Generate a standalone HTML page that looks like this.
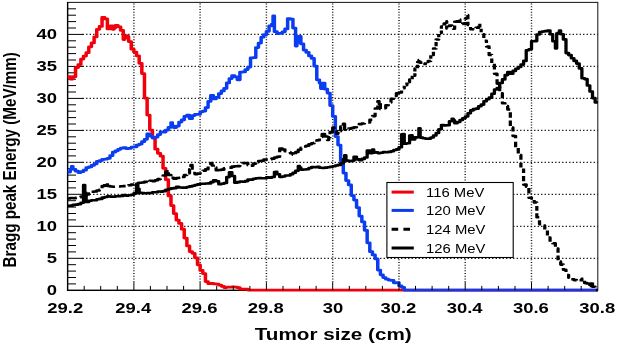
<!DOCTYPE html>
<html><head><meta charset="utf-8"><title>Bragg peak</title>
<style>
html,body{margin:0;padding:0;background:#fff;}
body{width:617px;height:346px;overflow:hidden;}
svg{display:block}
text{font-family:"Liberation Sans",Arial,Helvetica,sans-serif;fill:#000}
.tl{font-size:14.2px;font-weight:bold}
.lg{font-size:12.7px}
.gh{stroke:#181818;stroke-width:1.3;stroke-dasharray:1.35 2.15}
.gv{stroke:#181818;stroke-width:1.45;stroke-dasharray:1.15 1.6}
.tk{stroke:#000;stroke-width:1}
.cv{fill:none;stroke-linejoin:round;stroke-linecap:butt}
</style></head><body>
<svg width="617" height="346" viewBox="0 0 617 346">
<rect width="617" height="346" fill="#fff"/>
<g><line x1="82.6" y1="258.3" x2="597.8" y2="258.3" class="gh"/><line x1="82.6" y1="226.3" x2="597.8" y2="226.3" class="gh"/><line x1="82.6" y1="194.3" x2="597.8" y2="194.3" class="gh"/><line x1="82.6" y1="162.3" x2="597.8" y2="162.3" class="gh"/><line x1="82.6" y1="130.4" x2="597.8" y2="130.4" class="gh"/><line x1="82.6" y1="98.4" x2="597.8" y2="98.4" class="gh"/><line x1="82.6" y1="66.4" x2="597.8" y2="66.4" class="gh"/><line x1="82.6" y1="34.4" x2="597.8" y2="34.4" class="gh"/><line x1="133.9" y1="282.3" x2="133.9" y2="2.4" class="gv"/><line x1="200.1" y1="282.3" x2="200.1" y2="2.4" class="gv"/><line x1="266.4" y1="282.3" x2="266.4" y2="2.4" class="gv"/><line x1="332.7" y1="282.3" x2="332.7" y2="2.4" class="gv"/><line x1="399.0" y1="282.3" x2="399.0" y2="2.4" class="gv"/><line x1="465.2" y1="282.3" x2="465.2" y2="2.4" class="gv"/><line x1="531.5" y1="282.3" x2="531.5" y2="2.4" class="gv"/></g>
<rect x="67.6" y="2.4" width="530.2" height="287.9" fill="none" stroke="#1a1a1a" stroke-width="1.05"/><path d="M67.6,1.9V290.3H597.8" fill="none" stroke="#000" stroke-width="1.35"/>
<g><line x1="67.6" y1="283.9" x2="76.0" y2="283.9" class="tk"/><line x1="67.6" y1="277.5" x2="76.0" y2="277.5" class="tk"/><line x1="67.6" y1="271.1" x2="76.0" y2="271.1" class="tk"/><line x1="67.6" y1="264.7" x2="76.0" y2="264.7" class="tk"/><line x1="67.6" y1="258.3" x2="83.1" y2="258.3" class="tk"/><line x1="67.6" y1="251.9" x2="76.0" y2="251.9" class="tk"/><line x1="67.6" y1="245.5" x2="76.0" y2="245.5" class="tk"/><line x1="67.6" y1="239.1" x2="76.0" y2="239.1" class="tk"/><line x1="67.6" y1="232.7" x2="76.0" y2="232.7" class="tk"/><line x1="67.6" y1="226.3" x2="83.1" y2="226.3" class="tk"/><line x1="67.6" y1="219.9" x2="76.0" y2="219.9" class="tk"/><line x1="67.6" y1="213.5" x2="76.0" y2="213.5" class="tk"/><line x1="67.6" y1="207.1" x2="76.0" y2="207.1" class="tk"/><line x1="67.6" y1="200.7" x2="76.0" y2="200.7" class="tk"/><line x1="67.6" y1="194.3" x2="83.1" y2="194.3" class="tk"/><line x1="67.6" y1="187.9" x2="76.0" y2="187.9" class="tk"/><line x1="67.6" y1="181.5" x2="76.0" y2="181.5" class="tk"/><line x1="67.6" y1="175.1" x2="76.0" y2="175.1" class="tk"/><line x1="67.6" y1="168.7" x2="76.0" y2="168.7" class="tk"/><line x1="67.6" y1="162.3" x2="83.1" y2="162.3" class="tk"/><line x1="67.6" y1="155.9" x2="76.0" y2="155.9" class="tk"/><line x1="67.6" y1="149.5" x2="76.0" y2="149.5" class="tk"/><line x1="67.6" y1="143.2" x2="76.0" y2="143.2" class="tk"/><line x1="67.6" y1="136.8" x2="76.0" y2="136.8" class="tk"/><line x1="67.6" y1="130.4" x2="83.1" y2="130.4" class="tk"/><line x1="67.6" y1="124.0" x2="76.0" y2="124.0" class="tk"/><line x1="67.6" y1="117.6" x2="76.0" y2="117.6" class="tk"/><line x1="67.6" y1="111.2" x2="76.0" y2="111.2" class="tk"/><line x1="67.6" y1="104.8" x2="76.0" y2="104.8" class="tk"/><line x1="67.6" y1="98.4" x2="83.1" y2="98.4" class="tk"/><line x1="67.6" y1="92.0" x2="76.0" y2="92.0" class="tk"/><line x1="67.6" y1="85.6" x2="76.0" y2="85.6" class="tk"/><line x1="67.6" y1="79.2" x2="76.0" y2="79.2" class="tk"/><line x1="67.6" y1="72.8" x2="76.0" y2="72.8" class="tk"/><line x1="67.6" y1="66.4" x2="83.1" y2="66.4" class="tk"/><line x1="67.6" y1="60.0" x2="76.0" y2="60.0" class="tk"/><line x1="67.6" y1="53.6" x2="76.0" y2="53.6" class="tk"/><line x1="67.6" y1="47.2" x2="76.0" y2="47.2" class="tk"/><line x1="67.6" y1="40.8" x2="76.0" y2="40.8" class="tk"/><line x1="67.6" y1="34.4" x2="83.1" y2="34.4" class="tk"/><line x1="67.6" y1="28.0" x2="76.0" y2="28.0" class="tk"/><line x1="67.6" y1="21.6" x2="76.0" y2="21.6" class="tk"/><line x1="67.6" y1="15.2" x2="76.0" y2="15.2" class="tk"/><line x1="67.6" y1="8.8" x2="76.0" y2="8.8" class="tk"/></g>
<g transform="scale(1.27,1)">
<path class="cv" d="M53.23,76.5H54.27V76.5H55.32V79.0H56.36V79.0H57.40V76.7H58.45V76.7H59.49V67.6H60.53V67.6H61.58V64.6H62.62V64.6H63.67V59.0H64.71V59.0H65.75V56.0H66.80V56.0H67.84V52.7H68.88V52.7H69.93V46.8H70.97V46.8H72.01V42.9H73.06V42.9H74.10V36.9H75.15V36.9H76.19V29.3H77.23V29.3H78.28V26.4H79.32V26.4H80.36V17.4H81.41V17.4H82.45V18.9H83.50V18.9H84.54V28.9H85.58V28.9H86.63V25.9H87.67V25.9H88.71V29.3H89.76V27.9H90.80V25.3H91.85V25.3H92.89V26.8H93.93V26.8H94.98V30.4H96.02V30.4H97.06V39.5H98.11V37.6H99.15V35.5H100.19V36.4H101.24V41.5H102.28V41.5H103.33V49.2H104.37V49.2H105.41V52.0H106.46V52.0H107.50V55.8H108.54V55.8H109.59V63.3H110.63V63.3H111.68V73.6H112.72V73.6H113.76V98.1H114.81V98.1H115.85V115.1H116.89V115.1H117.94V130.0H118.98V130.0H120.03V137.6H121.07V137.6H122.11V149.2H123.16V149.2H124.20V153.3H125.24V153.3H126.29V156.1H127.33V156.1H128.37V168.3H129.42V168.3H130.46V179.7H131.51V179.7H132.55V195.9H133.59V195.9H134.64V205.6H135.68V205.6H136.72V213.5H137.77V213.5H138.81V220.2H139.86V220.2H140.90V223.4H141.94V223.4H142.99V229.2H144.03V229.2H145.07V238.0H146.12V238.0H147.16V245.9H148.21V245.9H149.25V251.5H150.29V251.5H151.34V253.3H152.38V253.3H153.42V257.8H154.47V257.8H155.51V264.8H156.55V264.8H157.60V270.4H158.64V270.4H159.69V273.6H160.73V273.6H161.77V281.6H162.82V281.6H163.86V283.7H164.90V283.7H165.95V283.4H166.99V283.4H168.04V283.9H169.08V283.9H170.12V284.1H171.17V284.1H172.21V285.0H173.25V285.0H174.30V286.3H175.34V286.3H176.39V287.6H177.43V287.6H178.47V287.1H179.52V287.1H180.56V287.2H181.60V287.2H182.65V286.9H183.69V286.9H184.73V287.0H185.78V287.0H186.82V287.7H187.87V287.7H188.91V289.2H189.95V289.2H191.00V289.2H192.04V289.2H193.08V289.2H194.13V289.2H195.17V290.0H196.22V290.0H197.26V290.0H198.30V290.0H199.35V290.0H200.39V290.0H201.43V290.0H202.48V290.0H203.52V290.0H204.56V290.0H205.61V290.0H206.65V290.0H207.70V290.0H208.74V290.0H209.78V290.0H210.83V290.0H211.87V290.0H212.91V290.0H213.96V290.0H215.00V290.0H216.05V290.0H217.09V290.0H218.13V290.0H219.18V290.0H220.22V290.0H221.26V290.0H222.31V290.0H223.35V290.0H224.40V290.0H225.44V290.0H226.48V290.0H227.53V290.0H228.57V290.0H229.61V290.0H230.66V290.0H231.70V290.0H232.74V290.0H233.79V290.0H234.83V290.0H235.88V290.0H236.92V290.0H237.96V290.0H239.01V290.0H240.05V290.0H241.09V290.0H242.14V290.0H243.18V290.0H244.23V290.0H245.27V290.0H246.31V290.0H247.36V290.0H248.40V290.0H249.44V290.0H250.49V290.0H251.53V290.0H252.58V290.0H253.62V290.0H254.66V290.0H255.71V290.0H256.75V290.0H257.79V290.0H258.84V290.0H259.88V290.0H260.92V290.0H261.97V290.0H263.01V290.0H264.06V290.0H265.10V290.0H266.14V290.0H267.19V290.0H268.23V290.0H269.27V290.0H270.32V290.0H271.36V290.0H272.41V290.0H273.45V290.0H274.49V290.0H275.54V290.0H276.58V290.0H277.62V290.0H278.67V290.0H279.71V290.0H280.76V290.0H281.80V290.0H282.84V290.0H283.89V290.0H284.93V290.0H285.97V290.0H287.02V290.0H288.06V290.0H289.10V290.0H290.15V290.0H291.19V290.0H292.24V290.0H293.28V290.0H294.32V290.0H295.37V290.0H296.41V290.0H297.45V290.0H298.50V290.0H299.54V290.0H300.59V290.0H301.63V290.0H302.67V290.0H303.72V290.0H304.76V290.0H305.80V290.0H306.85V290.0H307.89V290.0H308.94V290.0H309.98V290.0H311.02V290.0H312.07V290.0H313.11V290.0H314.15V290.0H315.20V290.0H316.24V290.0H317.28V290.0H318.33V290.0H319.37V290.0H320.42V290.0H321.46V290.0H322.50V290.0H323.55V290.0H324.59V290.0H325.63V290.0H326.68V290.0H327.72V290.0H328.77V290.0H329.81V290.0H330.85V290.0H331.90V290.0H332.94V290.0H333.98V290.0H335.03V290.0H336.07V290.0H337.11V290.0H338.16V290.0H339.20V290.0H340.25V290.0H341.29V290.0H342.33V290.0H343.38V290.0H344.42V290.0H345.46V290.0H346.51V290.0H347.55V290.0H348.60V290.0H349.64V290.0H350.68V290.0H351.73V290.0H352.77V290.0H353.81V290.0H354.86V290.0H355.90V290.0H356.95V290.0H357.99V290.0H359.03V290.0H360.08V290.0H361.12V290.0H362.16V290.0H363.21V290.0H364.25V290.0H365.29V290.0H366.34V290.0H367.38V290.0H368.43V290.0H369.47V290.0H370.51V290.0H371.56V290.0H372.60V290.0H373.64V290.0H374.69V290.0H375.73V290.0H376.78V290.0H377.82V290.0H378.86V290.0H379.91V290.0H380.95V290.0H381.99V290.0H383.04V290.0H384.08V290.0H385.13V290.0H386.17V290.0H387.21V290.0H388.26V290.0H389.30V290.0H390.34V290.0H391.39V290.0H392.43V290.0H393.47V290.0H394.52V290.0H395.56V290.0H396.61V290.0H397.65V290.0H398.69V290.0H399.74V290.0H400.78V290.0H401.82V290.0H402.87V290.0H403.91V290.0H404.96V290.0H406.00V290.0H407.04V290.0H408.09V290.0H409.13V290.0H410.17V290.0H411.22V290.0H412.26V290.0H413.31V290.0H414.35V290.0H415.39V290.0H416.44V290.0H417.48V290.0H418.52V290.0H419.57V290.0H420.61V290.0H421.65V290.0H422.70V290.0H423.74V290.0H424.79V290.0H425.83V290.0H426.87V290.0H427.92V290.0H428.96V290.0H430.00V290.0H431.05V290.0H432.09V290.0H433.14V290.0H434.18V290.0H435.22V290.0H436.27V290.0H437.31V290.0H438.35V290.0H439.40V290.0H440.44V290.0H441.49V290.0H442.53V290.0H443.57V290.0H444.62V290.0H445.66V290.0H446.70V290.0H447.75V290.0H448.79V290.0H449.83V290.0H450.88V290.0H451.92V290.0H452.97V290.0H454.01V290.0H455.05V290.0H456.10V290.0H457.14V290.0H458.18V290.0H459.23V290.0H460.27V290.0H461.32V290.0H462.36V290.0H463.40V290.0H464.45V290.0H465.49V290.0H466.53V290.0H467.58V290.0H468.62V290.0H469.66V290.0H470.71" stroke="#f0000a" stroke-width="2.75"/>
<path class="cv" d="M53.23,172.1H54.27V172.1H55.32V169.0H56.36V166.3H57.40V169.3H58.45V169.3H59.49V171.2H60.53V171.2H61.58V172.6H62.62V172.6H63.67V171.7H64.71V171.7H65.75V170.2H66.80V170.2H67.84V167.7H68.88V167.7H69.93V166.9H70.97V166.9H72.01V165.4H73.06V165.4H74.10V163.9H75.15V163.9H76.19V161.3H77.23V161.3H78.28V160.5H79.32V160.5H80.36V159.4H81.41V159.4H82.45V159.1H83.50V159.1H84.54V158.3H85.58V158.3H86.63V155.7H87.67V155.7H88.71V152.2H89.76V152.2H90.80V150.8H91.85V150.8H92.89V149.3H93.93V149.3H94.98V148.2H96.02V148.2H97.06V147.7H98.11V147.7H99.15V148.6H100.19V148.6H101.24V148.3H102.28V148.3H103.33V147.2H104.37V147.2H105.41V146.9H106.46V146.9H107.50V145.0H108.54V145.0H109.59V144.1H110.63V144.1H111.68V141.7H112.72V141.7H113.76V139.3H114.81V139.3H115.85V133.9H116.89V133.9H117.94V136.0H118.98V136.0H120.03V138.1H121.07V138.1H122.11V137.0H123.16V137.0H124.20V134.5H125.24V134.5H126.29V131.8H127.33V131.8H128.37V132.1H129.42V132.1H130.46V130.1H131.51V130.1H132.55V127.4H133.59V127.4H134.64V122.5H135.68V125.9H136.72V127.6H137.77V127.6H138.81V126.1H139.86V126.1H140.90V122.1H141.94V122.1H142.99V119.9H144.03V119.9H145.07V116.3H146.12V116.3H147.16V115.2H148.21V115.2H149.25V118.7H150.29V118.7H151.34V115.5H152.38V115.5H153.42V114.3H154.47V114.3H155.51V114.4H156.55V114.4H157.60V111.8H158.64V111.8H159.69V111.0H160.73V111.0H161.77V107.5H162.82V107.5H163.86V101.4H164.90V101.4H165.95V95.4H166.99V95.4H168.04V98.9H169.08V98.9H170.12V97.4H171.17V97.4H172.21V93.6H173.25V93.6H174.30V90.9H175.34V90.9H176.39V88.4H177.43V88.4H178.47V82.9H179.52V82.9H180.56V78.6H181.60V78.6H182.65V75.6H183.69V75.6H184.73V76.8H185.78V76.8H186.82V79.8H187.87V79.8H188.91V72.2H189.95V72.2H191.00V71.9H192.04V71.9H193.08V69.5H194.13V69.5H195.17V67.1H196.22V67.1H197.26V57.8H198.30V57.8H199.35V57.7H200.39V57.7H201.43V47.6H202.48V47.6H203.52V43.1H204.56V43.1H205.61V37.2H206.65V37.2H207.70V34.7H208.74V34.7H209.78V31.3H210.83V31.3H211.87V25.9H212.91V25.9H213.96V24.1H215.00V15.9H216.05V31.7H217.09V31.7H218.13V33.6H219.18V33.6H220.22V33.3H221.26V33.3H222.31V31.8H223.35V31.8H224.40V28.9H225.44V28.9H226.48V18.5H227.53V18.5H228.57V19.0H229.61V19.0H230.66V28.0H231.70V28.0H232.74V46.0H233.79V42.3H234.83V36.4H235.88V36.4H236.92V43.9H237.96V43.9H239.01V50.1H240.05V50.1H241.09V52.4H242.14V52.4H243.18V55.9H244.23V55.9H245.27V58.4H246.31V58.4H247.36V66.2H248.40V66.2H249.44V79.8H250.49V79.8H251.53V83.0H252.58V88.6H253.62V83.0H254.66V83.0H255.71V89.2H256.75V89.2H257.79V93.1H258.84V93.1H259.88V105.5H260.92V105.5H261.97V116.4H263.01V116.4H264.06V136.5H265.10V136.5H266.14V145.1H267.19V145.1H268.23V160.8H269.27V160.8H270.32V173.0H271.36V173.0H272.41V180.6H273.45V180.6H274.49V184.9H275.54V184.9H276.58V195.6H277.62V195.6H278.67V200.1H279.71V200.1H280.76V207.6H281.80V207.6H282.84V216.0H283.89V216.0H284.93V221.9H285.97V221.9H287.02V230.3H288.06V230.3H289.10V242.8H290.15V242.8H291.19V251.7H292.24V251.7H293.28V254.9H294.32V254.9H295.37V258.9H296.41V258.9H297.45V270.1H298.50V270.1H299.54V274.8H300.59V274.8H301.63V277.5H302.67V277.5H303.72V279.2H304.76V279.2H305.80V280.0H306.85V280.0H307.89V280.4H308.94V280.4H309.98V282.8H311.02V282.8H312.07V282.5H313.11V282.5H314.15V285.8H315.20V285.8H316.24V287.3H317.28V287.3H318.33V290.0H319.37V290.0H320.42V290.0H321.46V290.0H322.50V290.0H323.55V290.0H324.59V290.0H325.63V290.0H326.68V290.0H327.72V290.0H328.77V290.0H329.81V290.0H330.85V290.0H331.90V290.0H332.94V290.0H333.98V290.0H335.03V290.0H336.07V290.0H337.11V290.0H338.16V290.0H339.20V290.0H340.25V290.0H341.29V290.0H342.33V290.0H343.38V290.0H344.42V290.0H345.46V290.0H346.51V290.0H347.55V290.0H348.60V290.0H349.64V290.0H350.68V290.0H351.73V290.0H352.77V290.0H353.81V290.0H354.86V290.0H355.90V290.0H356.95V290.0H357.99V290.0H359.03V290.0H360.08V290.0H361.12V290.0H362.16V290.0H363.21V290.0H364.25V290.0H365.29V290.0H366.34V290.0H367.38V290.0H368.43V290.0H369.47V290.0H370.51V290.0H371.56V290.0H372.60V290.0H373.64V290.0H374.69V290.0H375.73V290.0H376.78V290.0H377.82V290.0H378.86V290.0H379.91V290.0H380.95V290.0H381.99V290.0H383.04V290.0H384.08V290.0H385.13V290.0H386.17V290.0H387.21V290.0H388.26V290.0H389.30V290.0H390.34V290.0H391.39V290.0H392.43V290.0H393.47V290.0H394.52V290.0H395.56V290.0H396.61V290.0H397.65V290.0H398.69V290.0H399.74V290.0H400.78V290.0H401.82V290.0H402.87V290.0H403.91V290.0H404.96V290.0H406.00V290.0H407.04V290.0H408.09V290.0H409.13V290.0H410.17V290.0H411.22V290.0H412.26V290.0H413.31V290.0H414.35V290.0H415.39V290.0H416.44V290.0H417.48V290.0H418.52V290.0H419.57V290.0H420.61V290.0H421.65V290.0H422.70V290.0H423.74V290.0H424.79V290.0H425.83V290.0H426.87V290.0H427.92V290.0H428.96V290.0H430.00V290.0H431.05V290.0H432.09V290.0H433.14V290.0H434.18V290.0H435.22V290.0H436.27V290.0H437.31V290.0H438.35V290.0H439.40V290.0H440.44V290.0H441.49V290.0H442.53V290.0H443.57V290.0H444.62V290.0H445.66V290.0H446.70V290.0H447.75V290.0H448.79V290.0H449.83V290.0H450.88V290.0H451.92V290.0H452.97V290.0H454.01V290.0H455.05V290.0H456.10V290.0H457.14V290.0H458.18V290.0H459.23V290.0H460.27V290.0H461.32V290.0H462.36V290.0H463.40V290.0H464.45V290.0H465.49V290.0H466.53V290.0H467.58V290.0H468.62V290.0H469.66V290.0H470.71" stroke="#0a3cf0" stroke-width="2.75"/>
<path class="cv" d="M53.23,198.4H54.27V198.4H55.32V198.0H56.36V198.0H57.40V198.2H58.45V198.2H59.49V197.7H60.53V197.7H61.58V197.3H62.62V197.3H63.67V196.6H64.71V196.6H65.75V195.8H66.80V195.8H67.84V194.5H68.88V194.5H69.93V193.5H70.97V193.5H72.01V191.8H73.06V191.8H74.10V191.4H75.15V191.4H76.19V190.5H77.23V190.5H78.28V189.7H79.32V189.7H80.36V185.9H81.41V185.9H82.45V183.1H83.50V183.1H84.54V185.9H85.58V185.9H86.63V186.5H87.67V186.5H88.71V186.7H89.76V186.7H90.80V186.9H91.85V186.9H92.89V186.5H93.93V186.5H94.98V186.2H96.02V186.2H97.06V186.1H98.11V186.1H99.15V185.6H100.19V185.6H101.24V185.2H102.28V185.2H103.33V184.5H104.37V184.5H105.41V182.9H106.46V182.9H107.50V183.0H108.54V183.0H109.59V182.8H110.63V182.8H111.68V182.4H112.72V182.4H113.76V181.8H114.81V181.8H115.85V181.9H116.89V181.9H117.94V180.8H118.98V180.8H120.03V181.1H121.07V181.1H122.11V180.3H123.16V180.3H124.20V179.1H125.24V179.1H126.29V177.2H127.33V177.2H128.37V175.4H129.42V175.4H130.46V172.0H131.51V169.9H132.55V174.9H133.59V174.9H134.64V177.8H135.68V177.8H136.72V178.7H137.77V178.7H138.81V178.0H139.86V178.0H140.90V177.7H141.94V177.7H142.99V177.0H144.03V177.0H145.07V175.0H146.12V175.0H147.16V173.2H148.21V173.2H149.25V169.3H150.29V164.9H151.34V172.9H152.38V172.9H153.42V174.1H154.47V174.1H155.51V173.6H156.55V173.6H157.60V171.9H158.64V171.9H159.69V170.8H160.73V170.8H161.77V169.2H162.82V169.2H163.86V165.7H164.90V165.7H165.95V162.9H166.99V165.5H168.04V167.5H169.08V167.5H170.12V170.3H171.17V170.3H172.21V169.9H173.25V169.9H174.30V169.6H175.34V169.6H176.39V168.3H177.43V168.3H178.47V167.6H179.52V167.6H180.56V167.6H181.60V167.6H182.65V166.6H183.69V166.6H184.73V166.3H185.78V166.3H186.82V166.1H187.87V166.1H188.91V164.2H189.95V164.2H191.00V163.1H192.04V163.1H193.08V162.9H194.13V162.9H195.17V165.1H196.22V165.1H197.26V165.6H198.30V165.6H199.35V163.6H200.39V163.6H201.43V162.1H202.48V162.1H203.52V161.0H204.56V161.0H205.61V160.7H206.65V160.7H207.70V159.5H208.74V159.5H209.78V159.6H210.83V159.6H211.87V159.2H212.91V159.2H213.96V158.6H215.00V158.6H216.05V157.4H217.09V157.4H218.13V156.7H219.18V156.7H220.22V148.5H221.26V148.5H222.31V149.5H223.35V149.5H224.40V151.2H225.44V151.2H226.48V152.0H227.53V152.0H228.57V153.3H229.61V153.3H230.66V154.8H231.70V154.8H232.74V151.9H233.79V151.9H234.83V149.7H235.88V149.7H236.92V147.7H237.96V147.7H239.01V146.5H240.05V146.5H241.09V145.7H242.14V145.7H243.18V144.2H244.23V144.2H245.27V143.3H246.31V143.3H247.36V142.7H248.40V142.7H249.44V140.2H250.49V140.2H251.53V136.9H252.58V136.9H253.62V133.9H254.66V133.9H255.71V136.5H256.75V136.5H257.79V140.0H258.84V137.2H259.88V132.0H260.92V132.0H261.97V127.4H263.01V129.2H264.06V131.1H265.10V133.7H266.14V131.3H267.19V131.3H268.23V126.6H269.27V126.6H270.32V123.7H271.36V129.6H272.41V129.1H273.45V129.1H274.49V128.6H275.54V128.6H276.58V128.0H277.62V128.0H278.67V127.3H279.71V127.3H280.76V125.5H281.80V125.5H282.84V124.1H283.89V124.1H284.93V123.5H285.97V123.5H287.02V122.4H288.06V122.4H289.10V122.4H290.15V122.4H291.19V119.7H292.24V119.7H293.28V116.1H294.32V116.1H295.37V108.4H296.41V108.4H297.45V101.2H298.50V104.0H299.54V109.1H300.59V109.1H301.63V108.1H302.67V108.1H303.72V105.3H304.76V105.3H305.80V102.4H306.85V102.4H307.89V98.7H308.94V98.7H309.98V96.0H311.02V96.0H312.07V93.2H313.11V93.2H314.15V92.5H315.20V92.5H316.24V88.3H317.28V88.3H318.33V85.1H319.37V85.1H320.42V82.1H321.46V82.1H322.50V79.6H323.55V79.6H324.59V75.7H325.63V75.7H326.68V68.6H327.72V68.6H328.77V62.1H329.81V59.9H330.85V62.8H331.90V62.8H332.94V64.0H333.98V64.0H335.03V61.9H336.07V61.9H337.11V60.9H338.16V60.9H339.20V55.0H340.25V55.0H341.29V48.4H342.33V48.4H343.38V39.5H344.42V39.5H345.46V33.0H346.51V33.0H347.55V26.6H348.60V26.6H349.64V23.6H350.68V21.2H351.73V28.4H352.77V28.4H353.81V25.6H354.86V25.6H355.90V26.4H356.95V28.7H357.99V21.8H359.03V21.8H360.08V19.5H361.12V19.5H362.16V23.9H363.21V23.9H364.25V23.6H365.29V23.6H366.34V18.6H367.38V15.0H368.43V24.9H369.47V24.9H370.51V29.3H371.56V29.3H372.60V29.5H373.64V29.5H374.69V27.8H375.73V27.8H376.78V23.7H377.82V27.5H378.86V34.2H379.91V34.2H380.95V40.8H381.99V40.8H383.04V46.5H384.08V46.5H385.13V55.0H386.17V55.0H387.21V63.4H388.26V63.4H389.30V73.8H390.34V73.8H391.39V83.6H392.43V83.6H393.47V93.3H394.52V93.3H395.56V103.3H396.61V103.3H397.65V106.1H398.69V106.1H399.74V109.4H400.78V109.4H401.82V127.6H402.87V127.6H403.91V136.0H404.96V136.0H406.00V147.8H407.04V147.8H408.09V155.1H409.13V155.1H410.17V168.3H411.22V168.3H412.26V184.6H413.31V184.6H414.35V186.8H415.39V186.8H416.44V197.7H417.48V197.7H418.52V198.5H419.57V198.5H420.61V202.5H421.65V202.5H422.70V217.3H423.74V217.3H424.79V224.1H425.83V224.1H426.87V225.5H427.92V225.5H428.96V230.2H430.00V230.2H431.05V237.4H432.09V237.4H433.14V242.2H434.18V242.2H435.22V243.3H436.27V243.3H437.31V248.4H438.35V248.4H439.40V261.6H440.44V261.6H441.49V264.6H442.53V264.6H443.57V269.7H444.62V269.7H445.66V275.0H446.70V275.0H447.75V277.8H448.79V277.8H449.83V279.3H450.88V279.3H451.92V280.1H452.97V280.1H454.01V280.7H455.05V280.7H456.10V280.3H457.14V280.3H458.18V278.7H459.23V278.7H460.27V282.9H461.32V282.9H462.36V285.9H463.40V285.9H464.45V283.5H465.49V281.0H466.53V286.7H467.58V286.7H468.62V290.0H469.66V290.0H470.71" stroke="#000" stroke-width="2.55" stroke-dasharray="8.2 3.2 11.5 3.0 8.6 3.3 6.3 3.1 9.4 3.7 5.7 2.7 5.6 3.8 9.9 2.1 11.9 4.1 9.6 3.4 6.1 2.0 8.7 2.1 6.3 2.5 5.2 3.0 8.1 3.9 8.6 3.4 8.5 3.5 8.2 2.6 12.0 4.2 10.9 3.6 7.2 2.5 7.0 2.2 10.4 2.9 10.9 2.9 11.7 3.9 5.0 2.5 11.4 3.0 11.9 2.9 5.5 3.4 10.4 2.6 5.6 2.7 11.7 3.7 5.8 2.5 5.7 2.1 10.6 2.4 8.9 3.0 6.3 3.6 5.9 3.4 5.8 2.9 6.5 2.6 11.8 3.8 7.1 3.9 6.5 2.9 11.0 3.4 3.3 2.0 3.5 1.5 4.2 1.5 3.6 1.4 3.3 1.7 3.5 1.7 3.7 1.6 4.4 1.6 3.9 1.9 3.4 1.4 4.4 1.9 3.5 1.4 4.2 2.0 3.5 2.0 4.3 1.7 3.7 1.4 3.3 2.0 3.5 1.8 3.5 1.9 4.0 1.5 3.4 1.8 3.6 2.6 4.3 3.3 4.4 2.7 4.9 2.6 3.5 2.7 4.2 2.5 3.8 2.8 4.4 2.5 4.0 3.3 5.0 3.1 4.5 3.0 3.7 2.4 3.5 3.3 4.6 3.4 3.5 3.0 5.2 3.1 5.0 3.4 4.6 2.9 5.6 3.3 5.6 3.1 5.7 3.3 5.0 3.1 5.9 3.3 5.1 3.2 5.8 3.0 5.4 2.8 5.4 3.0 4.6 3.0 6.0 3.3 5.6 2.8 5.6 3.0 5.2 3.2 4.6 3.2 4.5 3.0 5.2 2.6 5.5 2.9 5.4 3.3 4.9 2.4 5.0 3.1 4.8 2.6 5.9 3.1 5.2 3.3 5.0 3.1 4.8 2.8 5.7 3.3 5.8 2.8 5.4 2.7 4.7 2.9 5.8 3.2 6.1 3.9 4.8 2.8 5.4 2.9 4.6 3.1 5.9 3.2 4.9 3.8 6.9 3.2 4.2 2.5"/>
<path class="cv" d="M53.23,205.8H54.27V205.8H55.32V205.6H56.36V205.6H57.40V204.9H58.45V204.9H59.49V204.6H60.53V204.6H61.58V204.1H62.62V204.1H63.67V202.8H64.71V202.8H65.75V185.0H66.80V192.9H67.84V202.0H68.88V202.0H69.93V200.8H70.97V200.8H72.01V200.2H73.06V200.2H74.10V200.3H75.15V200.3H76.19V199.2H77.23V199.2H78.28V198.9H79.32V198.9H80.36V197.6H81.41V197.6H82.45V197.0H83.50V197.0H84.54V196.3H85.58V196.3H86.63V196.6H87.67V196.6H88.71V196.7H89.76V196.7H90.80V196.2H91.85V196.2H92.89V196.2H93.93V196.2H94.98V195.9H96.02V195.9H97.06V195.1H98.11V195.1H99.15V195.6H100.19V195.6H101.24V195.2H102.28V195.2H103.33V194.8H104.37V194.8H105.41V193.4H106.46V193.4H107.50V183.9H108.54V188.8H109.59V192.9H110.63V192.9H111.68V193.1H112.72V193.1H113.76V193.3H114.81V193.3H115.85V193.1H116.89V193.1H117.94V193.0H118.98V193.0H120.03V192.2H121.07V192.2H122.11V192.2H123.16V192.2H124.20V191.5H125.24V191.5H126.29V191.6H127.33V191.6H128.37V191.1H129.42V191.1H130.46V189.7H131.51V189.7H132.55V189.0H133.59V189.0H134.64V188.4H135.68V188.4H136.72V188.1H137.77V188.1H138.81V186.9H139.86V186.9H140.90V187.5H141.94V187.5H142.99V187.6H144.03V187.6H145.07V187.6H146.12V187.6H147.16V187.0H148.21V187.0H149.25V186.4H150.29V186.4H151.34V185.8H152.38V185.8H153.42V185.0H154.47V185.0H155.51V184.4H156.55V184.4H157.60V183.8H158.64V183.8H159.69V183.8H160.73V183.8H161.77V183.5H162.82V183.5H163.86V183.4H164.90V183.4H165.95V182.1H166.99V182.1H168.04V180.4H169.08V180.4H170.12V181.2H171.17V181.2H172.21V184.2H173.25V184.2H174.30V183.7H175.34V183.7H176.39V183.0H177.43V183.0H178.47V177.1H179.52V177.1H180.56V172.4H181.60V172.4H182.65V176.0H183.69V176.0H184.73V182.8H185.78V182.8H186.82V182.1H187.87V182.1H188.91V181.5H189.95V181.5H191.00V181.7H192.04V181.7H193.08V181.1H194.13V181.1H195.17V179.6H196.22V179.6H197.26V179.6H198.30V179.6H199.35V178.7H200.39V178.7H201.43V178.2H202.48V178.2H203.52V178.1H204.56V178.1H205.61V178.3H206.65V178.3H207.70V178.2H208.74V178.2H209.78V177.2H210.83V177.2H211.87V177.7H212.91V177.7H213.96V177.0H215.00V177.0H216.05V172.1H217.09V171.9H218.13V174.2H219.18V174.2H220.22V176.9H221.26V176.9H222.31V176.5H223.35V176.5H224.40V175.5H225.44V175.5H226.48V175.5H227.53V175.5H228.57V174.2H229.61V174.2H230.66V172.8H231.70V172.8H232.74V170.7H233.79V170.7H234.83V166.0H235.88V167.5H236.92V169.6H237.96V169.6H239.01V169.5H240.05V169.5H241.09V169.3H242.14V169.3H243.18V168.0H244.23V168.0H245.27V167.0H246.31V167.0H247.36V167.2H248.40V167.2H249.44V166.9H250.49V166.9H251.53V167.8H252.58V167.8H253.62V168.0H254.66V168.0H255.71V167.6H256.75V167.6H257.79V167.2H258.84V167.2H259.88V166.8H260.92V166.8H261.97V166.2H263.01V166.2H264.06V165.5H265.10V165.5H266.14V164.9H267.19V164.9H268.23V163.3H269.27V163.3H270.32V159.1H271.36V155.3H272.41V160.6H273.45V160.6H274.49V161.1H275.54V161.1H276.58V160.7H277.62V160.7H278.67V156.7H279.71V156.7H280.76V159.4H281.80V159.4H282.84V160.2H283.89V160.2H284.93V158.9H285.97V158.9H287.02V157.5H288.06V157.5H289.10V150.6H290.15V150.6H291.19V153.1H292.24V153.1H293.28V149.6H294.32V152.6H295.37V152.3H296.41V152.3H297.45V153.1H298.50V153.1H299.54V152.8H300.59V152.8H301.63V152.0H302.67V152.0H303.72V152.3H304.76V152.3H305.80V151.9H306.85V151.9H307.89V151.3H308.94V151.3H309.98V150.0H311.02V150.0H312.07V149.4H313.11V149.4H314.15V147.3H315.20V147.3H316.24V134.2H317.28V134.0H318.33V143.6H319.37V143.6H320.42V143.2H321.46V143.2H322.50V135.6H323.55V135.4H324.59V139.5H325.63V139.5H326.68V137.4H327.72V137.4H328.77V137.1H329.81V128.3H330.85V137.6H331.90V137.6H332.94V138.3H333.98V138.3H335.03V138.7H336.07V138.7H337.11V138.6H338.16V138.6H339.20V137.5H340.25V137.5H341.29V135.5H342.33V135.5H343.38V133.0H344.42V133.0H345.46V129.2H346.51V129.2H347.55V125.1H348.60V125.1H349.64V125.4H350.68V125.4H351.73V125.2H352.77V125.2H353.81V121.2H354.86V121.2H355.90V118.8H356.95V120.2H357.99V123.3H359.03V123.3H360.08V122.0H361.12V122.0H362.16V120.0H363.21V120.0H364.25V118.2H365.29V118.2H366.34V116.5H367.38V116.5H368.43V113.2H369.47V113.2H370.51V110.4H371.56V110.4H372.60V109.1H373.64V109.1H374.69V108.6H375.73V108.6H376.78V106.3H377.82V106.3H378.86V104.6H379.91V104.6H380.95V101.2H381.99V101.2H383.04V99.2H384.08V99.2H385.13V97.6H386.17V97.6H387.21V93.8H388.26V93.8H389.30V89.5H390.34V89.5H391.39V88.0H392.43V88.0H393.47V83.0H394.52V83.0H395.56V79.4H396.61V79.4H397.65V75.1H398.69V75.1H399.74V72.1H400.78V72.1H401.82V73.8H402.87V73.8H403.91V70.9H404.96V70.9H406.00V68.7H407.04V68.7H408.09V67.0H409.13V67.0H410.17V64.6H411.22V64.6H412.26V60.9H413.31V60.9H414.35V50.3H415.39V50.3H416.44V49.3H417.48V49.3H418.52V41.3H419.57V41.3H420.61V41.1H421.65V41.1H422.70V34.5H423.74V34.5H424.79V32.1H425.83V32.1H426.87V31.5H427.92V31.5H428.96V31.1H430.00V31.1H431.05V30.6H432.09V30.6H433.14V34.3H434.18V34.3H435.22V41.3H436.27V41.3H437.31V48.4H438.35V33.4H439.40V32.7H440.44V30.6H441.49V34.3H442.53V34.3H443.57V39.4H444.62V39.4H445.66V53.1H446.70V53.1H447.75V55.1H448.79V55.1H449.83V58.2H450.88V58.2H451.92V60.9H452.97V60.9H454.01V63.6H455.05V63.6H456.10V68.4H457.14V68.4H458.18V78.3H459.23V78.3H460.27V79.1H461.32V79.1H462.36V85.5H463.40V85.5H464.45V91.5H465.49V91.5H466.53V98.1H467.58V98.1H468.62V102.4H469.66V102.4H470.71" stroke="#000" stroke-width="2.6"/>
</g>
<g><line x1="84.2" y1="290.3" x2="84.2" y2="285.9" class="tk"/><line x1="100.7" y1="290.3" x2="100.7" y2="285.9" class="tk"/><line x1="117.3" y1="290.3" x2="117.3" y2="285.9" class="tk"/><line x1="133.9" y1="290.3" x2="133.9" y2="282.3" class="tk"/><line x1="150.4" y1="290.3" x2="150.4" y2="285.9" class="tk"/><line x1="167.0" y1="290.3" x2="167.0" y2="285.9" class="tk"/><line x1="183.6" y1="290.3" x2="183.6" y2="285.9" class="tk"/><line x1="200.1" y1="290.3" x2="200.1" y2="282.3" class="tk"/><line x1="216.7" y1="290.3" x2="216.7" y2="285.9" class="tk"/><line x1="233.3" y1="290.3" x2="233.3" y2="285.9" class="tk"/><line x1="249.9" y1="290.3" x2="249.9" y2="285.9" class="tk"/><line x1="266.4" y1="290.3" x2="266.4" y2="282.3" class="tk"/><line x1="283.0" y1="290.3" x2="283.0" y2="285.9" class="tk"/><line x1="299.6" y1="290.3" x2="299.6" y2="285.9" class="tk"/><line x1="316.1" y1="290.3" x2="316.1" y2="285.9" class="tk"/><line x1="332.7" y1="290.3" x2="332.7" y2="282.3" class="tk"/><line x1="349.3" y1="290.3" x2="349.3" y2="285.9" class="tk"/><line x1="365.8" y1="290.3" x2="365.8" y2="285.9" class="tk"/><line x1="382.4" y1="290.3" x2="382.4" y2="285.9" class="tk"/><line x1="399.0" y1="290.3" x2="399.0" y2="282.3" class="tk"/><line x1="415.5" y1="290.3" x2="415.5" y2="285.9" class="tk"/><line x1="432.1" y1="290.3" x2="432.1" y2="285.9" class="tk"/><line x1="448.7" y1="290.3" x2="448.7" y2="285.9" class="tk"/><line x1="465.2" y1="290.3" x2="465.2" y2="282.3" class="tk"/><line x1="481.8" y1="290.3" x2="481.8" y2="285.9" class="tk"/><line x1="498.4" y1="290.3" x2="498.4" y2="285.9" class="tk"/><line x1="515.0" y1="290.3" x2="515.0" y2="285.9" class="tk"/><line x1="531.5" y1="290.3" x2="531.5" y2="282.3" class="tk"/><line x1="548.1" y1="290.3" x2="548.1" y2="285.9" class="tk"/><line x1="564.7" y1="290.3" x2="564.7" y2="285.9" class="tk"/><line x1="581.2" y1="290.3" x2="581.2" y2="285.9" class="tk"/></g>
<rect x="386.9" y="182.5" width="126.3" height="75" fill="#fff" stroke="#000" stroke-width="1.1"/>
<line x1="391.6" y1="192.1" x2="413.8" y2="192.1" stroke="#f0000a" stroke-width="3"/><text class="lg" transform="translate(426,196.7) scale(1.17,1)">116 MeV</text><line x1="391.6" y1="210.4" x2="413.8" y2="210.4" stroke="#0a3cf0" stroke-width="3"/><text class="lg" transform="translate(426,215.0) scale(1.17,1)">120 MeV</text><line x1="391.6" y1="229.2" x2="413.8" y2="229.2" stroke="#000" stroke-width="3" stroke-dasharray="6.6 5.2"/><text class="lg" transform="translate(426,233.8) scale(1.17,1)">124 MeV</text><line x1="391.6" y1="248" x2="413.8" y2="248" stroke="#000" stroke-width="3"/><text class="lg" transform="translate(426,252.6) scale(1.17,1)">126 MeV</text>
<text class="tl" text-anchor="end" transform="translate(57.1,295.0) scale(1.3,1)">0</text><text class="tl" text-anchor="end" transform="translate(57.1,263.0) scale(1.3,1)">5</text><text class="tl" text-anchor="end" transform="translate(57.1,231.0) scale(1.3,1)">10</text><text class="tl" text-anchor="end" transform="translate(57.1,199.0) scale(1.3,1)">15</text><text class="tl" text-anchor="end" transform="translate(57.1,167.0) scale(1.3,1)">20</text><text class="tl" text-anchor="end" transform="translate(57.1,135.1) scale(1.3,1)">25</text><text class="tl" text-anchor="end" transform="translate(57.1,103.1) scale(1.3,1)">30</text><text class="tl" text-anchor="end" transform="translate(57.1,71.1) scale(1.3,1)">35</text><text class="tl" text-anchor="end" transform="translate(57.1,39.1) scale(1.3,1)">40</text><text class="tl" text-anchor="middle" transform="translate(65.2,313.3) scale(1.3,1)">29.2</text><text class="tl" text-anchor="middle" transform="translate(133.3,313.3) scale(1.3,1)">29.4</text><text class="tl" text-anchor="middle" transform="translate(199.5,313.3) scale(1.3,1)">29.6</text><text class="tl" text-anchor="middle" transform="translate(265.8,313.3) scale(1.3,1)">29.8</text><text class="tl" text-anchor="middle" transform="translate(333.0,313.3) scale(1.3,1)">30</text><text class="tl" text-anchor="middle" transform="translate(398.4,313.3) scale(1.3,1)">30.2</text><text class="tl" text-anchor="middle" transform="translate(464.6,313.3) scale(1.3,1)">30.4</text><text class="tl" text-anchor="middle" transform="translate(530.9,313.3) scale(1.3,1)">30.6</text><text class="tl" text-anchor="middle" transform="translate(597.2,313.3) scale(1.3,1)">30.8</text>
<text transform="translate(333.2,339.8) scale(1.292,1)" text-anchor="middle" style="font-size:16px;font-weight:bold">Tumor size (cm)</text>
<text transform="translate(16,159.8) scale(1.24,1) rotate(-90)" text-anchor="middle" style="font-size:15.2px;font-weight:bold">Bragg peak Energy (MeV/mm)</text>
</svg>
</body></html>
